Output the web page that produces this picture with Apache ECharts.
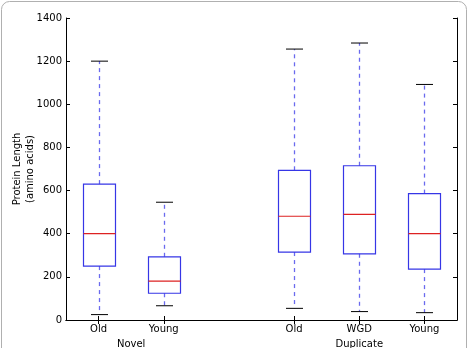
<!DOCTYPE html>
<html><head><meta charset="utf-8">
<script src="https://cdn.jsdelivr.net/npm/echarts@6/dist/echarts.min.js"></script>
<style>html,body{margin:0;padding:0;background:#fff}#c{width:469px;height:348px}</style>
</head><body><div id="c"></div>
<script>
var categories = ['Old', 'Young', '', 'Old', 'WGD', 'Young'];
var groups = ['Novel', 'Duplicate'];
var yTicks = [0, 200, 400, 600, 800, 1000, 1200, 1400];
// [categoryIndex, lowerWhisker, Q1, median, Q3, upperWhisker]
var novelOld   = [0, 25, 250, 400, 630, 1200];
var novelYoung = [1, 66, 124, 180, 293, 546];
var dupOld     = [3, 54, 315, 481, 694, 1256];
var dupWGD     = [4, 39, 307, 490, 715, 1284];
var dupYoung   = [5, 34, 236, 400, 586, 1092];

var font = 'DejaVu Sans';
var chart = echarts.init(document.getElementById('c'), null, {renderer: 'canvas'});

function renderItem(params, api) {
  var x = api.value(0);
  var lo = api.coord([x, api.value(1)]);
  var q1 = api.coord([x, api.value(2)]);
  var md = api.coord([x, api.value(3)]);
  var q3 = api.coord([x, api.value(4)]);
  var hi = api.coord([x, api.value(5)]);
  var cx = Math.round(lo[0]) + 0.5;
  var hw = 16, cw = 8.5;
  var blue = '#3636e6', wblue = '#6a6aee';
  return {
    type: 'group',
    children: [
      {type: 'line', shape: {x1: cx, y1: q3[1], x2: cx, y2: hi[1]}, style: {stroke: wblue, lineWidth: 1.3, lineDash: [4, 4]}},
      {type: 'line', shape: {x1: cx, y1: q1[1], x2: cx, y2: lo[1]}, style: {stroke: wblue, lineWidth: 1.3, lineDash: [4, 4]}},
      {type: 'line', shape: {x1: cx - cw, y1: hi[1], x2: cx + cw, y2: hi[1]}, style: {stroke: '#000', lineWidth: 1}},
      {type: 'line', shape: {x1: cx - cw, y1: lo[1], x2: cx + cw, y2: lo[1]}, style: {stroke: '#000', lineWidth: 1}},
      {type: 'rect', shape: {x: cx - hw, y: q3[1], width: 2 * hw, height: q1[1] - q3[1]}, style: {fill: 'none', stroke: blue, lineWidth: 1.2}},
      {type: 'line', shape: {x1: cx - hw, y1: md[1], x2: cx + hw, y2: md[1]}, style: {stroke: '#dd2222', lineWidth: 1.2}}
    ]
  };
}

var axisTickCommon = {show: true, inside: true, length: 4, lineStyle: {color: '#000'}};
function plain(v) { return String(v); }

chart.setOption({
  animation: false,
  backgroundColor: '#fff',
  textStyle: {fontFamily: font},
  grid: {left: 66, top: 18, right: 12, bottom: 28, containLabel: false, outerBoundsMode: 'none'},
  xAxis: [
    {type: 'category', data: categories, position: 'bottom',
     axisLine: {lineStyle: {color: '#000', width: 1}},
     axisTick: Object.assign({}, axisTickCommon, {alignWithLabel: true, interval: function (i) { return i !== 2; }}),
     axisLabel: {color: '#000', fontSize: 10, fontFamily: font, margin: 4, interval: 0},
     splitLine: {show: false}},
    {type: 'category', data: categories, position: 'top',
     axisLine: {lineStyle: {color: '#000', width: 1}},
     axisTick: Object.assign({}, axisTickCommon, {alignWithLabel: true, interval: function (i) { return i !== 2; }}),
     axisLabel: {show: false}, splitLine: {show: false}},
    {type: 'value', position: 'bottom', offset: 15, min: 0.5, max: 6.5, interval: 0.5,
     axisLine: {show: false}, axisTick: {show: false}, splitLine: {show: false},
     axisLabel: {color: '#000', fontSize: 10, fontFamily: font, margin: 4, showMinLabel: true, showMaxLabel: true,
       formatter: function (v) { if (v === 1.5) return groups[0]; if (v === 5) return groups[1]; return ''; }}}
  ],
  yAxis: [
    {type: 'value', min: yTicks[0], max: yTicks[yTicks.length - 1], interval: 200, position: 'left',
     name: 'Protein Length\n(amino acids)', nameLocation: 'middle', nameGap: 29, nameRotate: 90, nameMoveOverlap: false,
     nameTextStyle: {color: '#000', fontSize: 10, fontFamily: font, lineHeight: 13},
     axisLine: {show: true, lineStyle: {color: '#000', width: 1}},
     axisTick: axisTickCommon,
     axisLabel: {color: '#000', fontSize: 10, fontFamily: font, margin: 4, formatter: plain},
     splitLine: {show: false}},
    {type: 'value', min: yTicks[0], max: yTicks[yTicks.length - 1], interval: 200, position: 'right',
     axisLine: {show: true, lineStyle: {color: '#000', width: 1}},
     axisTick: axisTickCommon, axisLabel: {show: false}, splitLine: {show: false}}
  ],
  graphic: [
    {type: 'rect', shape: {x: 1.5, y: 1.5, width: 465, height: 360, r: 8}, style: {fill: 'none', stroke: '#b0b0b0', lineWidth: 1}, z: -1}
  ],
  series: [{
    type: 'custom', xAxisIndex: 0, yAxisIndex: 0,
    renderItem: renderItem,
    encode: {x: 0, y: [1, 2, 3, 4, 5]},
    data: [novelOld, novelYoung, dupOld, dupWGD, dupYoung],
    clip: false
  }]
});
</script></body></html>
